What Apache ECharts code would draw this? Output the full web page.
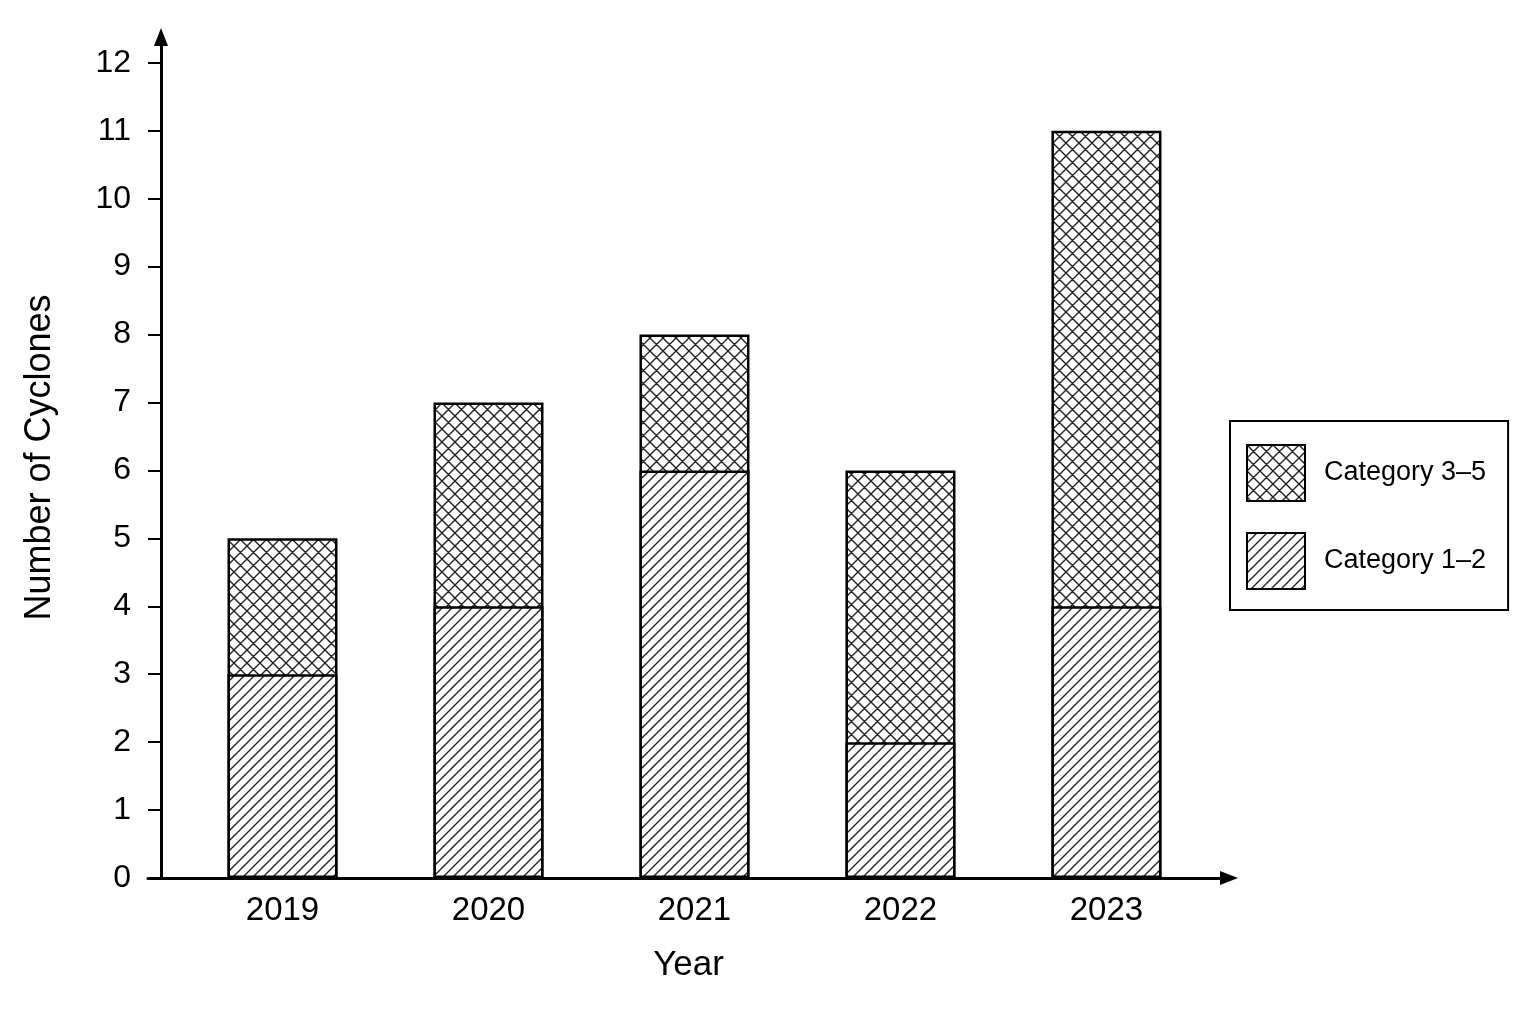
<!DOCTYPE html>
<html>
<head>
<meta charset="utf-8">
<title>Cyclones by year</title>
<script src="https://cdn.jsdelivr.net/npm/echarts@6/dist/echarts.min.js"></script>
<style>
    html, body { margin: 0; padding: 0; background: #fff; }
    #chart { width: 1536px; height: 1024px; }
</style>
</head>
<body>
<div id="chart"></div>
<script>
var years = ['2019', '2020', '2021', '2022', '2023'];
var cat12 = [3, 4, 6, 2, 4];
var cat35 = [2, 3, 2, 4, 7];
var yTicks = [0, 1, 2, 3, 4, 5, 6, 7, 8, 9, 10, 11, 12];
var xTicks = [0, 1, 2, 3, 4];

var FONT = '"Liberation Sans", Arial, sans-serif';

// hatch tiles for the bar fills
function hatch(size, cross) {
    var c = document.createElement('canvas');
    c.width = size;
    c.height = size;
    var ctx = c.getContext('2d');
    ctx.fillStyle = '#fff';
    ctx.fillRect(0, 0, size, size);
    ctx.strokeStyle = '#222';
    ctx.lineWidth = 1.4;
    ctx.beginPath();
    ctx.moveTo(-2, size + 2); ctx.lineTo(size + 2, -2);
    ctx.moveTo(-2, 2); ctx.lineTo(2, -2);
    ctx.moveTo(size - 2, size + 2); ctx.lineTo(size + 2, size - 2);
    if (cross) {
        ctx.moveTo(-2, -2); ctx.lineTo(size + 2, size + 2);
        ctx.moveTo(size - 2, -2); ctx.lineTo(size + 2, 2);
        ctx.moveTo(-2, size - 2); ctx.lineTo(2, size + 2);
    }
    ctx.stroke();
    return c;
}

// the 3-5 bar is drawn full height, the 1-2 bar is laid over its lower part
var totals = cat12.map(function (v, i) { return v + cat35[i]; });

var chart = echarts.init(document.getElementById('chart'));

chart.setOption({
    backgroundColor: '#fff',
    animation: false,
    textStyle: { fontFamily: FONT, color: '#000' },
    grid: { left: 148, top: 37, width: 1081, height: 841, containLabel: false },
    legend: {
        data: ['Category 3–5', 'Category 1–2'],
        orient: 'vertical',
        left: 1230,
        top: 421,
        padding: [23, 22, 20, 16],
        itemWidth: 58,
        itemHeight: 56,
        itemGap: 30,
        icon: 'rect',
        borderColor: '#000',
        borderWidth: 2,
        textStyle: { fontFamily: FONT, fontSize: 27, color: '#000', padding: [0, 0, 0, 14] }
    },
    xAxis: {
        type: 'value',
        min: -0.653,
        max: 4.595,
        name: 'Year',
        nameLocation: 'middle',
        nameGap: 70,
        nameTextStyle: { fontFamily: FONT, fontSize: 35, color: '#000' },
        splitLine: { show: false },
        axisLine: {
            onZero: false,
            lineStyle: { color: '#000', width: 3 },
            symbol: ['none', 'triangle'],
            symbolSize: [14, 18]
        },
        axisTick: { show: false },
        axisLabel: {
            customValues: xTicks,
            formatter: function (v) { return years[v]; },
            fontFamily: FONT,
            fontSize: 33,
            color: '#000',
            margin: 16
        }
    },
    yAxis: {
        type: 'value',
        min: 0,
        max: 12.38,
        offset: -13,
        name: 'Number of Cyclones',
        nameLocation: 'middle',
        nameGap: 103,
        nameTextStyle: { fontFamily: FONT, fontSize: 36, color: '#000' },
        splitLine: { show: false },
        axisLine: {
            onZero: false,
            lineStyle: { color: '#000', width: 3 },
            symbol: ['none', 'triangle'],
            symbolSize: [14, 18]
        },
        axisTick: {
            customValues: yTicks,
            length: 13,
            lineStyle: { color: '#000', width: 2 }
        },
        axisLabel: {
            customValues: yTicks,
            fontFamily: FONT,
            fontSize: 32,
            color: '#000',
            margin: 30
        }
    },
    series: [
        {
            name: 'Category 3–5',
            type: 'bar',
            barWidth: 110,
            barGap: '-100%',
            z: 2,
            data: totals.map(function (v, i) { return [i, v]; }),
            itemStyle: {
                color: { image: hatch(13, true), repeat: 'repeat' },
                borderColor: '#000',
                borderWidth: 2.5
            }
        },
        {
            name: 'Category 1–2',
            type: 'bar',
            barWidth: 110,
            barGap: '-100%',
            z: 3,
            data: cat12.map(function (v, i) { return [i, v]; }),
            itemStyle: {
                color: { image: hatch(10, false), repeat: 'repeat' },
                borderColor: '#000',
                borderWidth: 2.5
            }
        }
    ]
});
</script>
</body>
</html>
